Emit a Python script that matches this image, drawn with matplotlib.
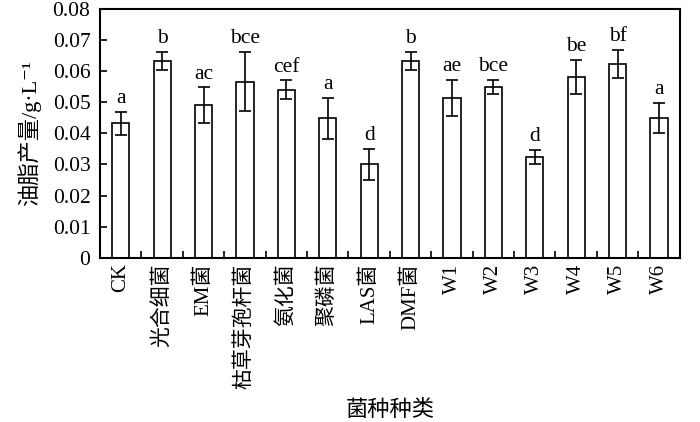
import matplotlib
matplotlib.use("Agg")
from matplotlib import pyplot as plt
import numpy as np

# 数据
categories = ["CK", "光合细菌", "EM菌", "枯草芽孢杆菌", "氨化菌", "聚磷菌", "LAS菌",
              "DMF菌", "W1", "W2", "W3", "W4", "W5", "W6"]
values = [0.0433, 0.0633, 0.0490, 0.0566, 0.0540, 0.0449, 0.0300,
          0.0632, 0.0515, 0.0549, 0.0325, 0.0582, 0.0624, 0.0449]
errors = [0.0037, 0.0029, 0.0058, 0.0095, 0.0030, 0.0066, 0.0050,
          0.0029, 0.0058, 0.0023, 0.0023, 0.0054, 0.0045, 0.0049]
letters = ["a", "b", "ac", "bce", "cef", "a", "d",
           "b", "ae", "bce", "d", "be", "bf", "a"]

plt.rcParams["font.family"] = ["Liberation Serif", "Noto Sans CJK SC", "DejaVu Serif"]

fig = plt.figure(figsize=(7, 4.22), dpi=100)
ax = fig.add_axes([0.143, 0.389, 0.828, 0.590])

x = np.arange(len(categories))
ax.bar(x, values, width=0.42, color="white", edgecolor="black", linewidth=1.2,
       yerr=errors, error_kw=dict(ecolor="black", elinewidth=1.2, capsize=4, capthick=1.2))

for i in range(len(x)):
    ax.text(x[i], values[i] + errors[i] + 0.0012, letters[i], ha="center", va="bottom", fontsize=15.5)

ax.set_xlim(-0.5, len(categories) - 0.5)
ax.set_ylim(0, 0.08)
ax.set_yticks(np.arange(0, 0.081, 0.01))
ax.set_yticklabels(["0"] + ["%.2f" % v for v in np.arange(0.01, 0.081, 0.01)], fontsize=15.5)

# 刻度在柱子之间
ax.set_xticks(x[:-1] + 0.5)
ax.set_xticklabels([])
ax.set_xticks(x, minor=True)
ax.set_xticklabels(categories, minor=True, rotation=90, fontsize=15)
ax.tick_params(axis="x", which="minor", length=0, pad=4)
ax.tick_params(axis="x", which="major", direction="in", length=5, width=1.2)
ax.tick_params(axis="y", direction="in", length=5, width=1.2, pad=7)

for s in ax.spines.values():
    s.set_linewidth(1.5)

ax.set_ylabel("油脂产量/g·L⁻¹", fontsize=16, labelpad=8)
ax.set_xlabel("菌种种类", fontsize=16, labelpad=8)

fig.savefig("out.png", dpi=100)
